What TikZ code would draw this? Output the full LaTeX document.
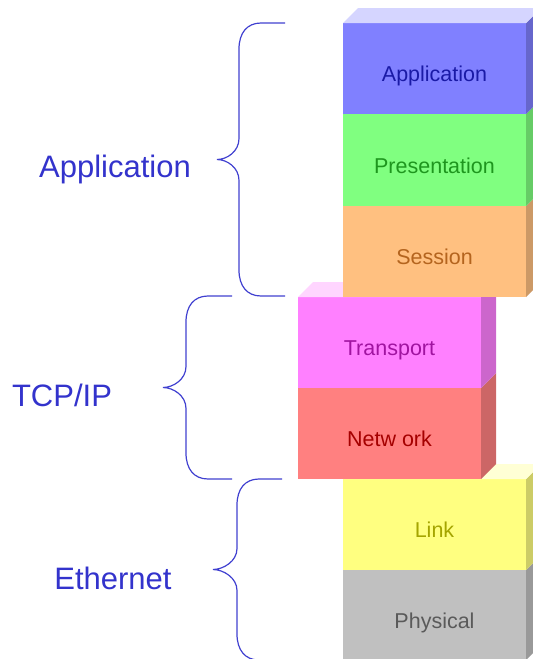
\documentclass[tikz,border=0pt]{standalone}
\usepackage{fontspec}
\setmainfont{Liberation Sans}
\definecolor{labcol}{RGB}{51,51,204}
\definecolor{bracecol}{RGB}{64,64,208}
\definecolor{appF}{RGB}{128,128,255}\definecolor{appT}{RGB}{213,213,255}\definecolor{appS}{RGB}{102,102,204}\definecolor{appX}{RGB}{26,26,166}
\definecolor{preF}{RGB}{128,255,128}\definecolor{preS}{RGB}{102,204,102}\definecolor{preX}{RGB}{30,150,30}
\definecolor{sesF}{RGB}{255,192,128}\definecolor{sesS}{RGB}{204,153,102}\definecolor{sesX}{RGB}{180,100,30}
\definecolor{traF}{RGB}{255,128,255}\definecolor{traT}{RGB}{255,213,255}\definecolor{traS}{RGB}{204,102,204}\definecolor{traX}{RGB}{160,20,160}
\definecolor{netF}{RGB}{255,128,128}\definecolor{netS}{RGB}{204,102,102}\definecolor{netX}{RGB}{165,0,0}
\definecolor{linF}{RGB}{255,255,128}\definecolor{linT}{RGB}{255,255,213}\definecolor{linS}{RGB}{204,204,102}\definecolor{linX}{RGB}{165,165,0}
\definecolor{phyF}{RGB}{192,192,192}\definecolor{phyS}{RGB}{153,153,153}\definecolor{phyX}{RGB}{90,90,90}
\tikzset{
  blocktext/.style={anchor=base,inner sep=0pt,font=\fontsize{21.5}{24}\selectfont},
  biglabel/.style={anchor=base,inner sep=0pt,text=labcol,font=\fontsize{31}{36}\selectfont},
  bracepath/.style={draw=bracecol,line width=1.2pt}
}
\newcommand\layerbox[8]{%
  \fill[#5] (#1+183,#2) -- ++(15,-15) -- (#1+198,#3-15) -- (#1+183,#3) -- cycle;
  \fill[#4] (#1,#2) rectangle (#1+183,#3);
  \node[blocktext,text=#6] (#8) at (#1+91.5,{(#2+#3)/2+13}) {#7};
}
\newcommand\topface[3]{%
  \fill[#3] (#1,#2) -- ++(15,-15) -- ++(183,0) -- ++(-15,15) -- cycle;
}
\newcommand\curlybrace[5]{% R V T top bot
  \draw[bracepath] (#1,#4) -- (#2+22,#4) .. controls (#2+8,#4) and (#2,#4+10) .. (#2,#4+26)
    -- (#2,{(#4+#5)/2-21}) .. controls (#2,{(#4+#5)/2-8}) and (#3+10,{(#4+#5)/2}) .. (#3,{(#4+#5)/2})
    .. controls (#3+10,{(#4+#5)/2}) and (#2,{(#4+#5)/2+8}) .. (#2,{(#4+#5)/2+21})
    -- (#2,#5-26) .. controls (#2,#5-10) and (#2+8,#5) .. (#2+22,#5) -- (#1,#5);
}
\begin{document}
\begin{tikzpicture}[x=1pt,y=-1pt]
\useasboundingbox (0,0) rectangle (533,659);
% bottom stack
\layerbox{343}{570}{660}{phyF}{phyS}{phyX}{Physical}{phy}
\layerbox{343}{479}{570}{linF}{linS}{linX}{Link}{lin}
\topface{343}{479}{linT}
% middle stack
\layerbox{298}{388}{479}{netF}{netS}{netX}{Netw ork}{net}
\layerbox{298}{297}{388}{traF}{traS}{traX}{Transport}{tra}
\topface{298}{297}{traT}
% top stack
\layerbox{343}{206}{297}{sesF}{sesS}{sesX}{Session}{ses}
\layerbox{343}{114}{206}{preF}{preS}{preX}{Presentation}{pre}
\layerbox{343}{23}{114}{appF}{appS}{appX}{Application}{app}
\topface{343}{23}{appT}
% braces
\curlybrace{285}{239}{217}{23}{296}
\curlybrace{232}{186}{163}{296}{479}
\curlybrace{282}{237}{213}{479}{660}
% labels
\node[biglabel] (lapp) at (115,177) {Application};
\node[biglabel] (ltcp) at (62,406) {TCP/IP};
\node[biglabel] (leth) at (113,589) {Ethernet};
\end{tikzpicture}
\end{document}
